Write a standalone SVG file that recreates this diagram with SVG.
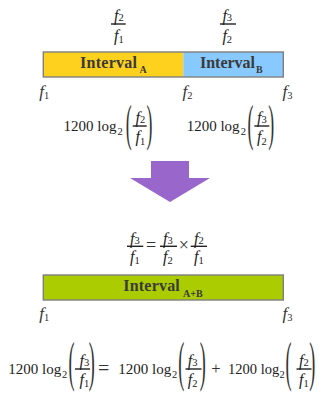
<svg xmlns="http://www.w3.org/2000/svg" width="323" height="396" viewBox="0 0 323 396">
<style>
.f{font-family:"Liberation Serif",serif;font-style:italic;font-size:16px;fill:#222}
.lb{font-family:"Liberation Serif",serif;font-style:italic;font-size:17px;fill:#333}
.d{font-style:normal;font-size:10.5px}
.nb{font-family:"Liberation Serif",serif;font-size:15px;fill:#222}
.nc{font-family:"Liberation Serif",serif;font-size:14.5px;fill:#222}
.sb{font-size:10.5px}
.p{font-family:"Liberation Serif",serif;fill:#333}
.fb{stroke:#222;stroke-width:1.4}
.iv{font-family:"Liberation Serif",serif;font-weight:bold;font-size:16px;fill:#3a3a3a}
.ivs{font-family:"Liberation Serif",serif;font-weight:bold;font-size:10px;fill:#3a3a3a}
.box{fill:none;stroke:#7f7f7f;stroke-width:1.4}
</style>

<g id="ratio-top">
  <line class="fb" x1="111" y1="24" x2="125.7" y2="24"/>
  <text class="f" x="114" y="20.8">f<tspan class="d" dy="0.3">2</tspan></text>
  <text class="f" x="114" y="41">f<tspan class="d" dy="1.5">1</tspan></text>
  <line class="fb" x1="220" y1="24" x2="236" y2="24"/>
  <text class="f" x="222.4" y="20.8">f<tspan class="d" dy="0.3">3</tspan></text>
  <text class="f" x="222.4" y="41">f<tspan class="d" dy="1.5">2</tspan></text>
</g>

<g id="interval-AB-bar">
  <rect x="43.3" y="52" width="140" height="25" fill="#FFD11F"/>
  <rect x="183.3" y="52" width="100" height="25" fill="#88C9FF"/>
  <rect class="box" x="43.3" y="52" width="240" height="25"/>
  <text class="iv" x="80" y="68.3" textLength="57">Interval</text>
  <text class="ivs" x="139.5" y="73.3">A</text>
  <text class="iv" x="200" y="68.3" textLength="55">Interval</text>
  <text class="ivs" x="256" y="73.3">B</text>
</g>

<g id="freq-labels-top">
  <text class="lb" x="39.2" y="96.6">f<tspan class="d" dy="2.4">1</tspan></text>
  <text class="lb" x="182.5" y="96.6">f<tspan class="d" dy="2.4">2</tspan></text>
  <text class="lb" x="282.5" y="96.6">f<tspan class="d" dy="2.4">3</tspan></text>
</g>

<g id="cents-A">
  <text class="nb" y="131"><tspan x="63.5">1200 log</tspan><tspan class="sb" x="117.5" dy="4">2</tspan></text>
  <text class="p" font-size="51" transform="translate(125.8,139.5) scale(0.35,1)">(</text>
  <line class="fb" x1="132.7" y1="126" x2="146.7" y2="126"/>
  <text class="f" x="135.5" y="123.3">f<tspan class="d">2</tspan></text>
  <text class="f" x="135.5" y="142">f<tspan class="d" dy="2.5">1</tspan></text>
  <text class="p" font-size="51" transform="translate(146.6,139.5) scale(0.35,1)">)</text>
</g>

<g id="cents-B">
  <text class="nb" y="131"><tspan x="186.7">1200 log</tspan><tspan class="sb" x="240.7" dy="4">2</tspan></text>
  <text class="p" font-size="51" transform="translate(247.4,139.5) scale(0.35,1)">(</text>
  <line class="fb" x1="254.3" y1="126" x2="269.3" y2="126"/>
  <text class="f" x="257" y="123.3">f<tspan class="d">3</tspan></text>
  <text class="f" x="257" y="142">f<tspan class="d" dy="2.5">2</tspan></text>
  <text class="p" font-size="51" transform="translate(268.2,139.5) scale(0.35,1)">)</text>
</g>

<g id="connectors">
  <polygon points="151,161 189,161 189,178 210,178 170,202 130,178 151,178" fill="#9966CC"/>
</g>

<g id="ratio-product">
  <line class="fb" x1="127" y1="246.3" x2="143.3" y2="246.3"/>
  <text class="f" x="130" y="243.6">f<tspan class="d">3</tspan></text>
  <text class="f" x="130" y="262.3">f<tspan class="d" dy="2">1</tspan></text>
  <text class="p" font-size="18" x="146" y="250.8">=</text>
  <line class="fb" x1="160" y1="246.3" x2="177" y2="246.3"/>
  <text class="f" x="163" y="243.6">f<tspan class="d">3</tspan></text>
  <text class="f" x="163" y="262.3">f<tspan class="d" dy="2">2</tspan></text>
  <text class="p" font-size="18" x="178.8" y="250.8">×</text>
  <line class="fb" x1="190.7" y1="246.3" x2="207" y2="246.3"/>
  <text class="f" x="194" y="243.6">f<tspan class="d">2</tspan></text>
  <text class="f" x="194" y="262.3">f<tspan class="d" dy="2">1</tspan></text>
</g>

<g id="interval-sum-bar">
  <rect x="43.3" y="275" width="240" height="25" fill="#AACC00"/>
  <rect class="box" x="43.3" y="275" width="240" height="25"/>
  <text class="iv" x="123.3" y="290.7" textLength="56.5">Interval</text>
  <text class="ivs" x="183" y="296.7">A+B</text>
</g>

<g id="freq-labels-bottom">
  <text class="lb" x="39.2" y="318.5">f<tspan class="d" dy="2.4">1</tspan></text>
  <text class="lb" x="282.5" y="318.5">f<tspan class="d" dy="2.4">3</tspan></text>
</g>

<g id="cents-sum">
  <text class="nb" y="373.5"><tspan x="8.3">1200 log</tspan><tspan class="sb" x="62" dy="4">2</tspan></text>
  <text class="p" font-size="55" transform="translate(68.6,380.2) scale(0.33,1)">(</text>
  <line class="fb" x1="75" y1="369" x2="90" y2="369"/>
  <text class="f" x="79.5" y="366">f<tspan class="d">3</tspan></text>
  <text class="f" x="79.5" y="385">f<tspan class="d" dy="2">1</tspan></text>
  <text class="p" font-size="55" transform="translate(88.8,380.2) scale(0.33,1)">)</text>

  <text class="p" font-size="20" x="98" y="374.6">=</text>

  <text class="nb" y="373.5"><tspan x="118.3">1200 log</tspan><tspan class="sb" x="172" dy="4">2</tspan></text>
  <text class="p" font-size="55" transform="translate(178.3,380.2) scale(0.33,1)">(</text>
  <line class="fb" x1="185.5" y1="369" x2="201.5" y2="369"/>
  <text class="f" x="187.8" y="366">f<tspan class="d">3</tspan></text>
  <text class="f" x="187.8" y="385">f<tspan class="d" dy="2">2</tspan></text>
  <text class="p" font-size="55" transform="translate(199.8,380.2) scale(0.33,1)">)</text>

  <text class="p" font-size="16.5" x="211.2" y="374.2">+</text>

  <text class="nc" y="373.5"><tspan x="228">1200 log</tspan><tspan class="sb" x="279.5" dy="4">2</tspan></text>
  <text class="p" font-size="55" transform="translate(285.6,380.2) scale(0.33,1)">(</text>
  <line class="fb" x1="296.5" y1="369" x2="311.5" y2="369"/>
  <text class="f" x="299" y="366">f<tspan class="d">2</tspan></text>
  <text class="f" x="299" y="385">f<tspan class="d" dy="2">1</tspan></text>
  <text class="p" font-size="55" transform="translate(309.3,380.2) scale(0.33,1)">)</text>
</g>
</svg>
